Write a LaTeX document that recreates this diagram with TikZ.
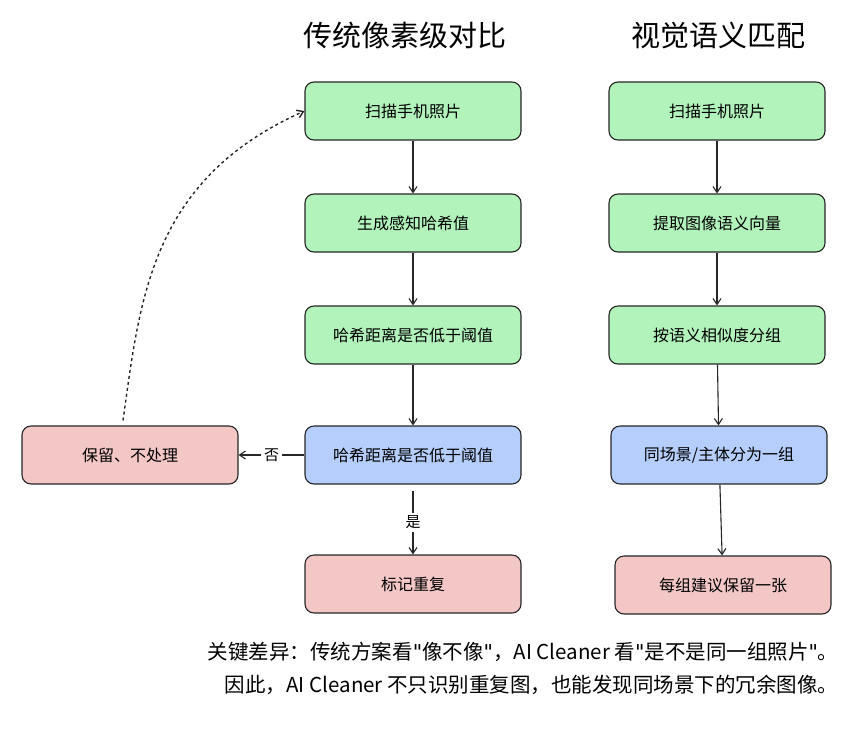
\documentclass[tikz,border=0pt]{standalone}
\usepackage{fontspec}
\setmainfont{Noto Sans CJK SC}
\newfontfamily\dv{DejaVu Sans}
\usetikzlibrary{arrows.meta}
\definecolor{gr}{HTML}{B2F2BB}
\definecolor{bl}{HTML}{B5CEFC}
\definecolor{pk}{HTML}{F4C7C7}
\newcommand{\qq}{{\dv\symbol{34}}}
\begin{document}
\begin{tikzpicture}[x=1pt,y=-1pt,
 box/.style={draw=black!85,line width=1.1pt,rounded corners=9pt,minimum width=216pt,minimum height=58pt,font=\fontsize{16}{18}\selectfont,inner sep=0pt},
 arr/.style={-{Straight Barb[length=6pt,width=8pt]},line width=1.1pt,draw=black!85}]
\useasboundingbox (0,0) rectangle (867,732);
\node[font=\fontsize{29}{32}\selectfont] (t1) at (405,35) {传统像素级对比};
\node[font=\fontsize{29}{32}\selectfont] (t2) at (718,35) {视觉语义匹配};
\node[box,fill=gr] (a1) at (413,111) {扫描手机照片};
\node[box,fill=gr] (a2) at (413,223) {生成感知哈希值};
\node[box,fill=gr] (a3) at (413,335) {哈希距离是否低于阈值};
\node[box,fill=bl] (a4) at (413,455) {哈希距离是否低于阈值};
\node[box,fill=pk] (a5) at (413,584) {标记重复};
\node[box,fill=pk] (l) at (130,455) {保留、不处理};
\node[box,fill=gr] (b1) at (717,111) {扫描手机照片};
\node[box,fill=gr] (b2) at (717,223) {提取图像语义向量};
\node[box,fill=gr] (b3) at (717,335) {按语义相似度分组};
\node[box,fill=bl] (b4) at (719,455) {同场景/主体分为一组};
\node[box,fill=pk] (b5) at (723,585) {每组建议保留一张};
\draw[arr] (a1) -- (a2);
\draw[arr] (a2) -- (a3);
\draw[arr] (a3) -- (a4);
\draw[arr] (a4.south) ++(0,6) -- node[fill=white,font=\fontsize{15}{17}\selectfont]{是} (a5.north);
\draw[arr] (a4.west) -- node[fill=white,font=\fontsize{15}{17}\selectfont]{否} (l.east);
\draw[arr,dashed,line width=1.4pt] (l.north) ++(-7,-5) .. controls (140,300) and (150,180) .. (a1.west);
\draw[arr] (b1) -- (b2);
\draw[arr] (b2) -- (b3);
\draw[arr] (b3) -- (b4);
\draw[arr] (b4) -- (b5);
\node[align=right,anchor=east,font=\fontsize{20.5}{33}\selectfont] (n) at (842,668) {关键差异：传统方案看\qq 像不像\qq ，\textit{AI Cleaner} 看\qq 是不是同一组照片\qq 。\\因此，\textit{AI Cleaner} 不只识别重复图，也能发现同场景下的冗余图像。};
\end{tikzpicture}
\end{document}
